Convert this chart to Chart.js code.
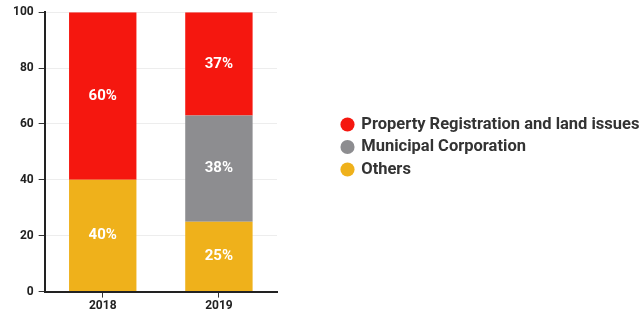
<!DOCTYPE html>
<html>
<head>
<meta charset="utf-8">
<script src="https://cdn.jsdelivr.net/npm/chart.js@4"></script>
<style>
  html, body { margin: 0; padding: 0; background: #fff; }
  #wrap { width: 643px; height: 312px; }
</style>
</head>
<body>
<div id="wrap"><canvas id="chart" width="643" height="312"></canvas></div>
<script>
// Data
const years = ["2018", "2019"];
const propertyRegistration = [60, 37];
const municipalCorporation = [0, 38];
const others = [40, 25];
const yTicks = [0, 20, 40, 60, 80, 100];

const RED = "#f5170f";
const GREY = "#8d8d90";
const YELLOW = "#efb11b";

Chart.defaults.font.family = "Roboto, 'Noto Sans', sans-serif";

// Draw the percentage text inside each bar segment
const barLabels = {
    id: "barLabels",
    afterDatasetsDraw(chart) {
        const ctx = chart.ctx;
        ctx.save();
        ctx.font = "bold 15px Roboto, sans-serif";
        ctx.fillStyle = "#ffffff";
        ctx.textAlign = "center";
        ctx.textBaseline = "middle";
        chart.data.datasets.forEach((ds, i) => {
            const meta = chart.getDatasetMeta(i);
            meta.data.forEach((bar, j) => {
                const v = ds.data[j];
                if (!v) return;
                const p = bar.getCenterPoint();
                ctx.fillText(v + "%", p.x, p.y);
            });
        });
        ctx.restore();
    }
};

// Legend sits on the right with a gap from the plot
const legendPlace = {
    id: "legendPlace",
    beforeInit(chart) {
        const fit = chart.legend.fit;
        chart.legend.fit = function () {
            fit.call(this);
            this.width = 366;
        };
    },
    afterLayout(chart) {
        const lg = chart.legend;
        lg.left = 336;
        lg.top -= 13;
        lg.bottom -= 13;
    }
};

new Chart(document.getElementById("chart"), {
    type: "bar",
    data: {
        labels: years,
        // stacked bottom-up: Others, Municipal, Property
        datasets: [
            { label: "Others", data: others, backgroundColor: YELLOW },
            { label: "Municipal Corporation", data: municipalCorporation, backgroundColor: GREY },
            { label: "Property Registration and land issues", data: propertyRegistration, backgroundColor: RED }
        ]
    },
    options: {
        responsive: false,
        animation: false,
        layout: { padding: { top: 6, left: 8, right: 0, bottom: -2 } },
        datasets: { bar: { categoryPercentage: 0.58, barPercentage: 1 } },
        scales: {
            x: {
                stacked: true,
                border: { color: "#222", width: 2 },
                grid: { offset: false, drawOnChartArea: false, tickColor: "#333", tickLength: 6 },
                ticks: { color: "#222", font: { size: 12, weight: "bold" }, padding: 1 }
            },
            y: {
                stacked: true,
                min: 0,
                max: 100,
                border: { color: "#222", width: 2 },
                grid: { color: "#ededed", tickColor: "#333", tickLength: 6 },
                afterBuildTicks(scale) {
                    scale.ticks = yTicks.map(v => ({ value: v }));
                },
                ticks: { color: "#222", font: { size: 12, weight: "bold" }, padding: 5 }
            }
        },
        plugins: {
            legend: {
                position: "right",
                align: "center",
                reverse: true,
                labels: {
                    usePointStyle: true,
                    pointStyle: "circle",
                    boxWidth: 11,
                    boxHeight: 10,
                    padding: 6,
                    color: "#333",
                    font: { size: 16.5, weight: "bold" }
                }
            },
            tooltip: { enabled: false }
        }
    },
    plugins: [barLabels, legendPlace]
});
</script>
</body>
</html>
